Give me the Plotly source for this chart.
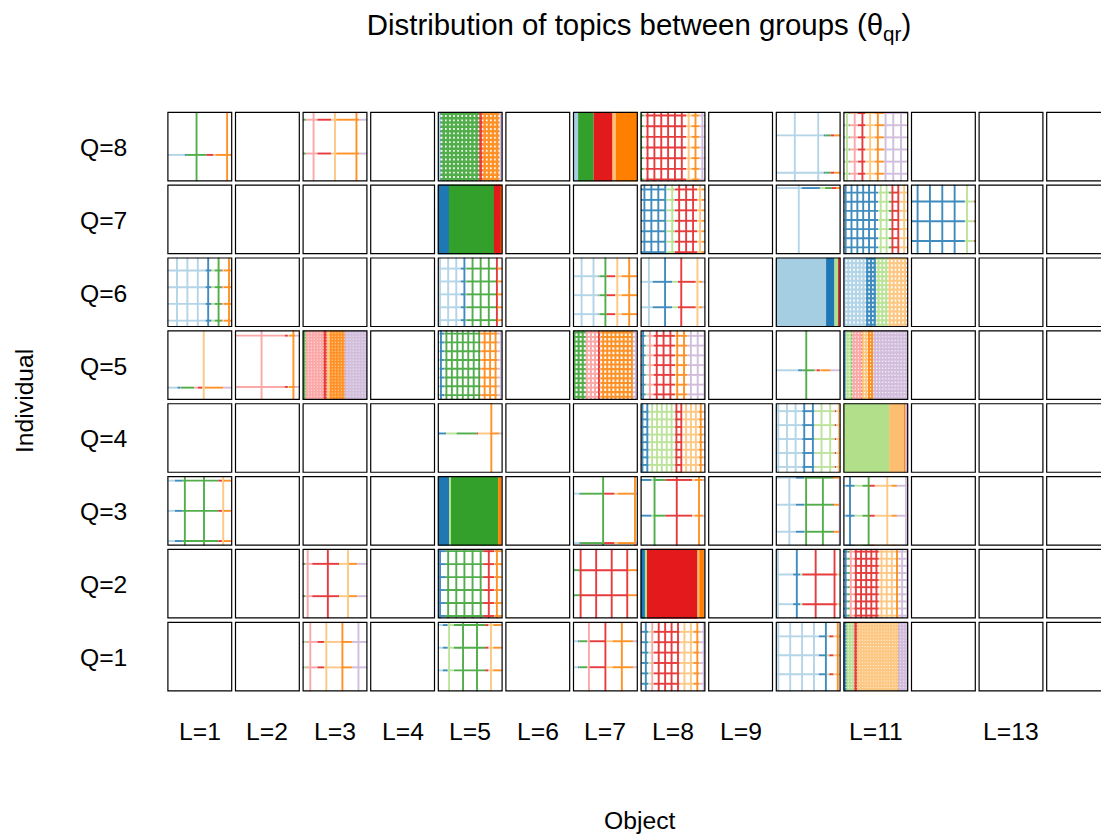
import numpy as np
import plotly.graph_objects as go

PALETTE = dict(A="#a6cee3", B="#1f78b4", C="#b2df8a", D="#33a02c", E="#fb9a99",
               F="#e31a1c", G="#fdbf6f", H="#ff7f00", I="#cab2d6")

TITLE = "Distribution of topics between groups (θ<sub>qr</sub>)"
Q_LABELS = ["Q=1", "Q=2", "Q=3", "Q=4", "Q=5", "Q=6", "Q=7", "Q=8"]
L_LABELS = ["L=1", "L=2", "L=3", "L=4", "L=5", "L=6", "L=7", "L=8", "L=9", "", "L=11", "", "L=13", ""]

# Each row: Q, L, topics, cumulative topic proportions,
# first vertical cut, vertical step, first horizontal cut, horizontal step, line width
# A step of 0 on both axes means the block is solid.
PANEL_Q = [8,8,8,8,8,8,8, 7,7,7,7,7, 6,6,6,6,6,6, 5,5,5,5,5,5,5,5, 4,4,4,4, 3,3,3,3,3,3, 2,2,2,2,2,2, 1,1,1,1,1,1]
PANEL_L = [1,3,5,7,8,10,11, 5,8,10,11,12, 1,5,7,8,10,11, 1,2,3,5,7,8,10,11, 5,8,10,11, 1,5,7,8,10,11, 3,5,7,8,10,11, 3,5,7,8,10,11]
PANEL_TOPICS = [
    "ABDFGHI","CDEFGHI","ABDFHI","ADFGH","DEFGHI","ABDFHI","ABCDEFGHI",
    "BDFH","ABCDEFGHI","ABCDFHI","ABCDFGHI","ABCF",
    "ABCDFGHI","ABCDFHI","ABCDFGHI","ABCFGHI","ABCFI","ABCGHI",
    "ABCDEFGHI","DEFGHI","DEFGHI","ABCDFGHI","DEFGHI","ABCEFGHI","ABDEFGHI","BCDEFGHI",
    "ABCDFGHI","ABCFGHI","ABCFGHI","CGHI",
    "ABDFGHI","BCDHI","ABDFGHI","ABCDFGHI","ABCDFHI","ABCDFGHI",
    "DEFGHI","ABDFGHI","BDFHI","BCFGHI","ABCFGI","BDEFGHI",
    "BCDEFGHI","ABCDFGHI","ABDEFGHI","ABCEFGHI","ABCFGHI","ABCEFGHI",
]
PANEL_ENDS = [
    [.27,.30,.605,.71,.745,.99,1],
    [.01,.05,.23,.44,.52,.87,1],
    [.04,.05,.64,.69,.95,1],
    [.08,.32,.61,.66,1],
    [.05,.085,.70,.79,.905,1],
    [.74,.765,.845,.90,.99,1],
    [.01,.02,.085,.10,.225,.34,.49,.625,1],
    [.175,.865,.97,1],
    [.01,.39,.51,.52,.53,.87,.94,.995,1],
    [.40,.68,.76,.865,.93,.99,1],
    [.02,.535,.70,.745,.86,.99,.995,1],
    [.005,.83,.975,1],
    [.59,.68,.73,.835,.85,.87,.985,1],
    [.355,.43,.44,.91,.915,.99,1],
    [.39,.40,.41,.52,.65,.75,.985,1],
    [.19,.485,.577,.85,.905,.95,1],
    [.775,.905,.96,.985,1],
    [.365,.50,.69,.965,.975,1],
    [.155,.205,.21,.415,.47,.54,.58,.86,1],
    [.01,.77,.815,.835,.925,1],
    [.05,.33,.38,.42,.66,1],
    [.05,.10,.105,.645,.66,.67,.92,1],
    [.20,.40,.41,.43,.92,1],
    [.01,.08,.11,.205,.53,.56,.72,1],
    [.345,.41,.60,.63,.68,.70,.845,1],
    [.035,.125,.14,.28,.30,.39,.46,1],
    [.02,.13,.29,.60,.62,.805,.95,1],
    [.01,.125,.535,.64,.90,.96,1],
    [.41,.595,.91,.93,.98,.99,1],
    [.705,.935,.955,1],
    [.118,.23,.785,.84,.87,.99,1],
    [.175,.205,.93,.985,1],
    [.10,.12,.48,.64,.69,.96,1],
    [.01,.17,.205,.385,.795,.835,.96,1],
    [.31,.44,.445,.887,.90,.975,1],
    [.035,.175,.295,.405,.485,.74,.825,1],
    [.04,.15,.565,.715,.845,1],
    [.01,.125,.70,.87,.88,.985,1],
    [.005,.10,.855,.995,1],
    [.07,.10,.89,.93,.975,1],
    [.268,.38,.41,.94,.99,1],
    [.065,.10,.17,.545,.82,.845,1],
    [.02,.05,.06,.23,.33,.595,.76,1],
    [.08,.155,.25,.73,.78,.855,.985,1],
    [.08,.10,.22,.26,.51,.61,.93,1],
    [.02,.12,.17,.205,.60,.815,.905,1],
    [.665,.785,.825,.89,.95,.98,1],
    [.01,.06,.16,.18,.21,.84,.855,1],
]
V_FIRST = [.45,.17,.03,0,.003,.294,.057, .02,.06,.355,.036,.103, .149,.036,.134,.129,0,.02,
           .56,.41,.02,.05,.025,.04,.47,.02, .825,.03,.04,0, .27,0,.465,.216,.21,.103,
           .08,.036,.119,.02,.035,.036, .12,.175,.247,.082,.04,.02]
V_STEP = [.47,.33,.063,0,.1054,.36,.1186, .035,.107,1,.09,.19, .16,.125,.183,.249,0,.058,
          1,.49,.046,.084,.063,.105,1,.047, 1,.0747,.133,0, .295,0,.49,.342,.258,.287,
          .31,.125,.239,.035,.29,.079, .247,.215,.253,.099,.183,.042]
H_FIRST = [.62,.115,.03,0,.055,.34,.02, .02,.07,.05,.115,.243, .187,.16,.27,.35,0,.02,
           .823,.077,.02,.048,.03,.08,.574,.02, .435,.124,.115,0, .067,0,.254,.057,.024,.14,
           .215,.033,.306,.02,.368,.04, .29,.048,.28,.145,.21,.02]
H_STEP = [1,.485,.0625,0,.153,.535,.174, .035,.15,1,.131,.283, .24,.185,.272,.365,0,.063,
          1,.736,.043,.126,.066,.14,1,.05, 1,.109,.20,0, .433,0,.708,.512,.388,.43,
          .464,.186,.359,.035,.426,.102, .365,.325,.373,.149,.272,.045]
LINE_W = [1.9,1.9,2.5,0,1.9,1.9,1.9, 3,1.9,1.9,1.9,1.9, 1.9,1.9,1.9,1.9,0,2.2,
          1.9,1.9,2.1,1.9,2.1,1.9,1.9,2.1, 1.9,1.9,1.9,0, 1.9,0,1.9,1.9,1.9,1.9,
          1.9,1.9,1.9,3,1.9,1.9, 1.9,1.9,1.9,1.9,1.9,2.1]
LINE_ALPHA = 0.85
FRAME_W = 2.4

W, H = 1101, 834
LEFT0, COL_STEP, PANEL_W = 167.3, 67.6, 65.0
TOP0, ROW_STEP, PANEL_H = 111.7, 72.86, 69.7
N_Q, N_L = 8, 14

fig = go.Figure()


def axis_id(q, l):
    return (8 - q) * N_L + l


def cuts(first, step):
    if step <= 0:
        return []
    return [float(v) for v in np.arange(first, 1.0001, step)]


layout_axes = {}
for q in range(1, N_Q + 1):
    for l in range(1, N_L + 1):
        k = axis_id(q, l)
        x0 = LEFT0 + (l - 1) * COL_STEP
        x1 = x0 + PANEL_W
        y0 = TOP0 + (8 - q) * ROW_STEP
        y1 = y0 + PANEL_H
        clipped = x1 > W
        xr = [0, (W - x0) / PANEL_W] if clipped else [0, 1]
        layout_axes[f"xaxis{k}"] = dict(
            domain=[x0 / W, min(x1, W) / W], range=xr, anchor=f"y{k}",
            showticklabels=False, ticks="", showgrid=False, zeroline=False,
            showline=False, fixedrange=True)
        layout_axes[f"yaxis{k}"] = dict(
            domain=[1 - y1 / H, 1 - y0 / H], range=[1, 0], anchor=f"x{k}",
            showticklabels=False, ticks="", showgrid=False, zeroline=False,
            showline=False, fixedrange=True)
        fig.add_trace(go.Scatter(x=[], y=[], mode="lines", xaxis=f"x{k}", yaxis=f"y{k}",
                                 showlegend=False, hoverinfo="skip"))

for i, (q, l) in enumerate(zip(PANEL_Q, PANEL_L)):
    k = axis_id(q, l)
    topics = PANEL_TOPICS[i]
    ends = PANEL_ENDS[i]
    assert len(topics) == len(ends), i
    starts = [0.0] + list(ends[:-1])
    vs = cuts(V_FIRST[i], V_STEP[i])
    hs = cuts(H_FIRST[i], H_STEP[i])
    if V_STEP[i] == 0:
        for t, s, e in zip(topics, starts, ends):
            fig.add_trace(go.Scatter(x=[s, e, e, s, s], y=[0, 0, 1, 1, 0], mode="lines",
                                     fill="toself", fillcolor=PALETTE[t], line=dict(width=0),
                                     xaxis=f"x{k}", yaxis=f"y{k}", showlegend=False, hoverinfo="skip"))
        continue
    alpha = 1.0 if LINE_W[i] >= 3 else LINE_ALPHA
    for t, s, e in zip(topics, starts, ends):
        xs, ys = [], []
        for h in hs:
            xs += [s, e, None]
            ys += [h, h, None]
        for v in vs:
            if s <= v < e:
                xs += [v, v, None]
                ys += [0, 1, None]
        fig.add_trace(go.Scatter(x=xs, y=ys, mode="lines", opacity=alpha,
                                 line=dict(color=PALETTE[t], width=LINE_W[i]),
                                 xaxis=f"x{k}", yaxis=f"y{k}", showlegend=False, hoverinfo="skip"))

# Panel frames, drawn last so that they sit on top of the blocks.
for q in range(1, N_Q + 1):
    for l in range(1, N_L + 1):
        k = axis_id(q, l)
        if l == N_L:
            fx, fy = [1.2, 0, 0, 1.2], [0, 0, 1, 1]
        else:
            fx, fy = [0, 1, 1, 0, 0], [0, 0, 1, 1, 0]
        fig.add_trace(go.Scatter(x=fx, y=fy, mode="lines", cliponaxis=False,
                                 line=dict(color="black", width=FRAME_W),
                                 xaxis=f"x{k}", yaxis=f"y{k}", showlegend=False, hoverinfo="skip"))

FONT = "Liberation Sans, Arial, sans-serif"
TICK_SIZE = 24.7
annotations = []
for q, lab in zip(range(1, 9), Q_LABELS):
    yc = TOP0 + (8 - q) * ROW_STEP + PANEL_H / 2 + 1
    annotations.append(dict(text=lab, xref="paper", yref="paper", x=104 / W, y=1 - yc / H,
                            showarrow=False, font=dict(size=TICK_SIZE, color="black"),
                            xanchor="center", yanchor="middle"))
for l, lab in zip(range(1, 15), L_LABELS):
    if lab:
        xc = LEFT0 + (l - 1) * COL_STEP + PANEL_W / 2
        annotations.append(dict(text=lab, xref="paper", yref="paper", x=xc / W, y=1 - 731 / H,
                                showarrow=False, font=dict(size=TICK_SIZE, color="black"),
                                xanchor="center", yanchor="middle"))
annotations.append(dict(text="Object", xref="paper", yref="paper", x=639 / W, y=1 - 820 / H,
                        showarrow=False, font=dict(size=TICK_SIZE, color="black"),
                        xanchor="center", yanchor="middle"))
annotations.append(dict(text="Individual", xref="paper", yref="paper", x=24 / W, y=1 - 401 / H,
                        showarrow=False, textangle=-90, font=dict(size=TICK_SIZE, color="black"),
                        xanchor="center", yanchor="middle"))

fig.update_layout(
    width=W, height=H, margin=dict(l=0, r=0, t=0, b=0),
    paper_bgcolor="white", plot_bgcolor="white",
    font=dict(family=FONT, color="black"),
    title=dict(text=TITLE, x=639 / W, y=1 - 25 / H, xref="paper", yref="paper",
               xanchor="center", yanchor="middle", font=dict(size=29.4, color="black")),
    annotations=annotations, showlegend=False,
    **layout_axes,
)
fig.write_html("out.html", config=dict(displayModeBar=False),
               post_script="document.body.style.margin='0';document.body.style.overflow='hidden';")
